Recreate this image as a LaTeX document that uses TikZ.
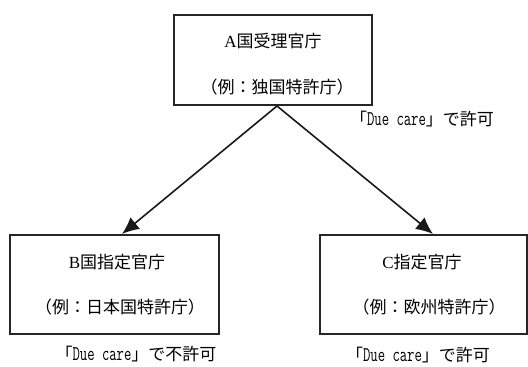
\documentclass[tikz,border=0pt]{standalone}
\usepackage{fontspec}
\setmainfont{Liberation Serif}
\newfontfamily\jp{Noto Sans CJK JP}
\usetikzlibrary{arrows.meta}
\tikzset{
  boxst/.style={draw=black!85, line width=2pt, inner sep=0pt},
  txt/.style={inner sep=0pt, font=\fontsize{17}{20}\selectfont},
  arr/.style={draw=black!90, line width=1.6pt, -{Latex[length=17pt,width=15pt]}},
}
\newcommand{\dc}{{\jp 「}\scalebox{0.68}[1]{\fontsize{21}{24}\selectfont\ttfamily Due care}{\jp 」}}
\begin{document}
\begin{tikzpicture}[x=1pt,y=1pt]
\useasboundingbox (0,0) rectangle (528,367);
% boxes
\node[boxst, minimum width=198pt, minimum height=90pt] (A) at (273,307) {};
\node[boxst, minimum width=209pt, minimum height=99pt] (B) at (114.5,82.5) {};
\node[boxst, minimum width=207pt, minimum height=99pt] (C) at (423.5,82.5) {};
% texts
\node[txt] (a1) at (273,326) {A{\jp 国受理官庁}};
\node[txt] (a2) at (277,280) {\jp （例：独国特許庁）};
\node[txt] (b1) at (117,105) {B{\jp 国指定官庁}};
\node[txt] (b2) at (120,60) {\jp （例：日本国特許庁）};
\node[txt] (c1) at (422,105) {C{\jp 指定官庁}};
\node[txt] (c2) at (429,60) {\jp （例：欧州特許庁）};
\node[txt] (l1) at (422,248) {\dc{\jp で許可}};
\node[txt] (l2) at (136,13) {\dc{\jp で不許可}};
\node[txt] (l3) at (418,12) {\dc{\jp で許可}};
% connectors
\coordinate (apex) at (A.south -| 277,0);
\coordinate (tb) at (B.north -| 122,0);
\coordinate (tc) at (C.north -| 433,0);
\draw[arr] (apex) -- (tb);
\draw[arr] (apex) -- (tc);
\end{tikzpicture}
\end{document}
